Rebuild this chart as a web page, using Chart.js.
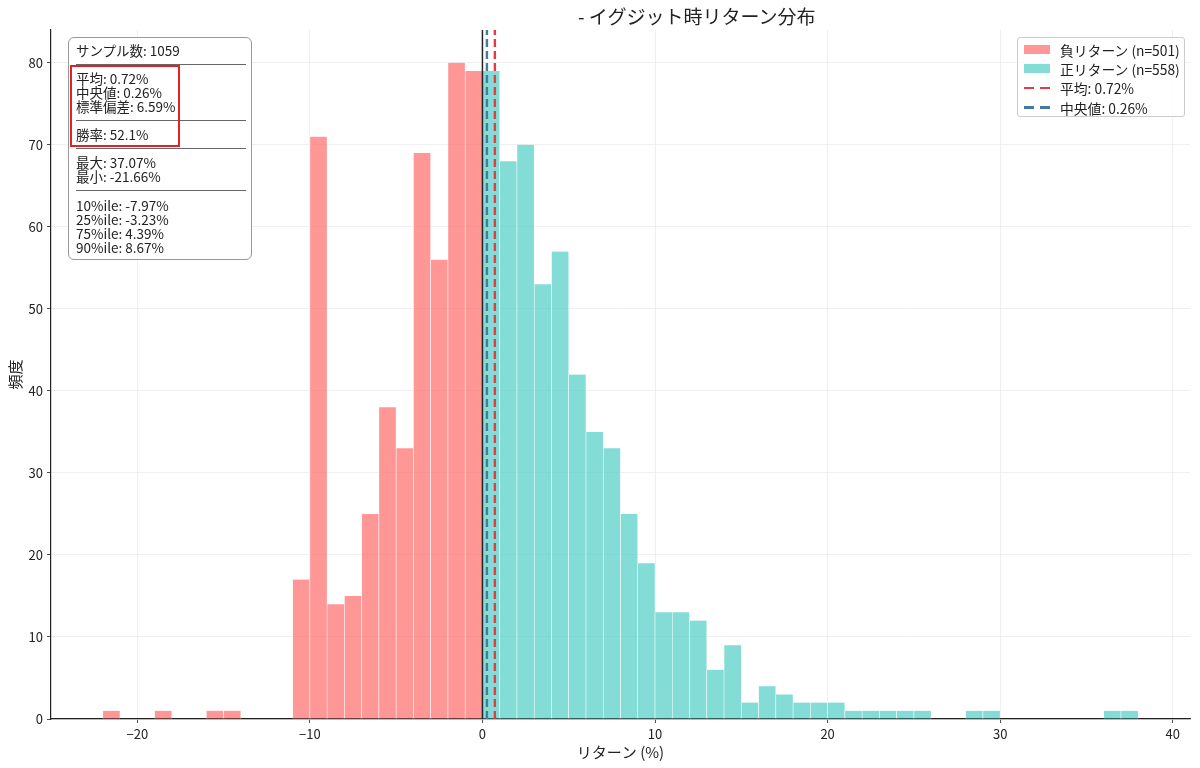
<!DOCTYPE html>
<html lang="ja">
<head>
<meta charset="utf-8">
<title>イグジット時リターン分布</title>
<script src="https://cdn.jsdelivr.net/npm/chart.js@4.4.1/dist/chart.umd.min.js"></script>
<style>
    body { margin: 0; background: #fff; font-family: "Noto Sans CJK JP", "Noto Sans", sans-serif; color: #222; }
    #wrap { position: relative; width: 1200px; height: 768px; }
    #title { position: absolute; left: 578px; top: 3px; font-size: 19px; line-height: 26px; white-space: nowrap; }
    #stats {
        position: absolute; left: 68px; top: 37px; width: 184px; height: 223px;
        border: 1px solid #999; border-radius: 6px; background: rgba(255,255,255,0.9);
        box-sizing: border-box; padding: 5px 0 0 7px; font-size: 13.5px; line-height: 14.05px;
    }
    #stats .sep { height: 14.05px; position: relative; }
    #stats .sep::after { content: ""; position: absolute; left: 0; width: 170px; top: 7px; border-top: 1px solid #666; }
    #highlight { position: absolute; left: 70px; top: 65px; width: 110px; height: 82px; border: 2px solid #e02222; box-sizing: border-box; }
    #legend {
        position: absolute; left: 1017px; top: 37px; width: 168px; height: 80px; box-sizing: border-box;
        border: 1px solid #ccc; border-radius: 3px; background: rgba(255,255,255,0.8); padding-top: 2px; font-size: 13.8px;
    }
    #legend .item { height: 19.3px; display: flex; align-items: center; white-space: nowrap; }
    #legend .sw { width: 26px; height: 9px; margin: 0 10px 0 6px; flex: none; }
    #legend .dash { width: 26px; height: 2.5px; margin: 0 10px 0 6px; flex: none; }
</style>
</head>
<body>
<div id="wrap">
    <canvas id="histChart" width="1200" height="768"></canvas>
    <div id="title">- イグジット時リターン分布</div>
    <div id="stats"></div>
    <div id="highlight"></div>
    <div id="legend"></div>
</div>
<script>
// ビン（幅1%）の左端と度数
const binWidth = 1;
const negBinStarts = [-22, -21, -20, -19, -18, -17, -16, -15, -14, -13, -12, -11, -10, -9, -8, -7, -6, -5, -4, -3, -2, -1];
const negCounts    = [  1,   0,   0,   1,   0,   0,   1,   1,   0,   0,   0,  17,  71, 14, 15, 25, 38, 33, 69, 56, 80, 79];
const posBinStarts = [0, 1, 2, 3, 4, 5, 6, 7, 8, 9, 10, 11, 12, 13, 14, 15, 16, 17, 18, 19, 20, 21, 22, 23, 24, 25, 26, 27, 28, 29, 30, 31, 32, 33, 34, 35, 36, 37];
const posCounts    = [79, 68, 70, 53, 57, 42, 35, 33, 25, 19, 13, 13, 12, 6, 9, 2, 4, 3, 2, 2, 2, 1, 1, 1, 1, 1, 0, 0, 1, 1, 0, 0, 0, 0, 0, 0, 1, 1];

const meanReturn = 0.72;
const medianReturn = 0.26;
const xTicks = [-20, -10, 0, 10, 20, 30, 40];
const yTicks = [0, 10, 20, 30, 40, 50, 60, 70, 80];
const xRange = [-25, 41];
const yRange = [0, 84];

const statLines = [
    'サンプル数: 1059', '-',
    '平均: 0.72%', '中央値: 0.26%', '標準偏差: 6.59%', '-',
    '勝率: 52.1%', '-',
    '最大: 37.07%', '最小: -21.66%', '-',
    '10%ile: -7.97%', '25%ile: -3.23%', '75%ile: 4.39%', '90%ile: 8.67%'
];

const COLOR_NEG = 'rgba(255, 107, 107, 0.7)';
const COLOR_POS = 'rgba(78, 205, 196, 0.7)';
const COLOR_MEAN = '#e63946';
const COLOR_MEDIAN = '#457b9d';

document.addEventListener('DOMContentLoaded', function() {
    buildStatsBox();
    buildLegend();
    drawChart();
});

function buildStatsBox() {
    const box = document.getElementById('stats');
    statLines.forEach(line => {
        const div = document.createElement('div');
        if (line === '-') {
            div.className = 'sep';
        } else {
            div.textContent = line;
        }
        box.appendChild(div);
    });
}

function buildLegend() {
    const legend = document.getElementById('legend');
    const items = [
        { label: '負リターン (n=' + negCounts.reduce((a, b) => a + b, 0) + ')', color: COLOR_NEG, type: 'patch' },
        { label: '正リターン (n=' + posCounts.reduce((a, b) => a + b, 0) + ')', color: COLOR_POS, type: 'patch' },
        { label: '平均: ' + meanReturn.toFixed(2) + '%', color: COLOR_MEAN, type: 'dash' },
        { label: '中央値: ' + medianReturn.toFixed(2) + '%', color: COLOR_MEDIAN, type: 'dash' }
    ];
    items.forEach(item => {
        const row = document.createElement('div');
        row.className = 'item';
        const mark = document.createElement('span');
        if (item.type === 'patch') {
            mark.className = 'sw';
            mark.style.background = item.color;
        } else {
            // 破線2本分
            mark.className = 'dash';
            mark.style.background = 'linear-gradient(to right, ' + item.color + ' 0 10px, transparent 10px 16px, ' + item.color + ' 16px 26px)';
        }
        const text = document.createElement('span');
        text.textContent = item.label;
        row.appendChild(mark);
        row.appendChild(text);
        legend.appendChild(row);
    });
}

function vline(x, color, dash, width) {
    return {
        type: 'line',
        data: [{ x: x, y: yRange[0] }, { x: x, y: yRange[1] }],
        borderColor: color,
        borderWidth: width,
        borderDash: dash,
        pointRadius: 0,
        fill: false,
        order: 0
    };
}

function drawChart() {
    const ctx = document.getElementById('histChart');
    const family = '"Noto Sans CJK JP", "Noto Sans", sans-serif';
    const font = { family: family, size: 13 };

    const barStyle = {
        type: 'bar',
        barPercentage: 1,
        categoryPercentage: 1,
        grouped: false,
        borderColor: 'rgba(255,255,255,0.9)',
        borderWidth: { left: 0.6, right: 0.6, top: 0, bottom: 0 },
        borderSkipped: false,
        order: 1
    };

    new Chart(ctx, {
        data: {
            datasets: [
                Object.assign({
                    label: '負リターン',
                    data: negBinStarts.map((b, i) => ({ x: b + binWidth / 2, y: negCounts[i] })),
                    backgroundColor: COLOR_NEG
                }, barStyle),
                Object.assign({
                    label: '正リターン',
                    data: posBinStarts.map((b, i) => ({ x: b + binWidth / 2, y: posCounts[i] })),
                    backgroundColor: COLOR_POS
                }, barStyle),
                vline(0, 'rgba(0,0,0,0.85)', [], 1.5),
                vline(meanReturn, COLOR_MEAN, [8, 4], 2.4),
                vline(medianReturn, COLOR_MEDIAN, [8, 4], 2.4)
            ]
        },
        options: {
            responsive: false,
            animation: false,
            events: [],
            layout: { padding: { top: 30, right: 10, left: 0, bottom: 0 } },
            plugins: {
                legend: { display: false },
                tooltip: { enabled: false },
                title: { display: false }
            },
            scales: {
                x: {
                    type: 'linear',
                    offset: false,
                    min: xRange[0],
                    max: xRange[1],
                    afterBuildTicks: scale => { scale.ticks = xTicks.map(v => ({ value: v })); },
                    afterFit: scale => { scale.height = 49; },
                    ticks: {
                        font: font,
                        color: '#222',
                        padding: 3,
                        maxRotation: 0,
                        callback: value => String(value).replace('-', '−')
                    },
                    grid: { offset: false, color: '#ebebeb', lineWidth: 0.8, tickLength: 4, tickColor: '#222' },
                    border: { color: '#222', width: 1.2 },
                    title: { display: true, text: 'リターン (%)', font: { family: family, size: 15 }, color: '#222', padding: { top: 0, bottom: 7 } }
                },
                y: {
                    min: yRange[0],
                    max: yRange[1],
                    afterBuildTicks: scale => { scale.ticks = yTicks.map(v => ({ value: v })); },
                    afterFit: scale => { scale.width = 51; },
                    ticks: { font: font, color: '#222', padding: 4 },
                    grid: { color: '#ebebeb', lineWidth: 0.8, tickLength: 4, tickColor: '#222' },
                    border: { color: '#222', width: 1.2 },
                    title: { display: true, text: '頻度', font: { family: family, size: 15 }, color: '#222', padding: { top: 6, bottom: 0 } }
                }
            }
        }
    });
}
</script>
</body>
</html>
